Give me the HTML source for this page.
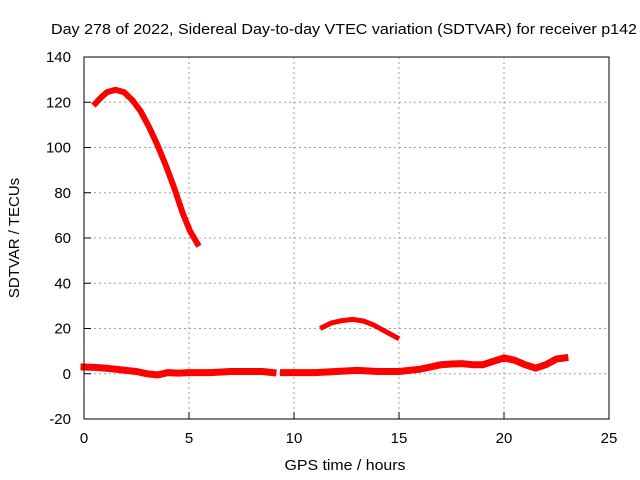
<!DOCTYPE html>
<html><head><meta charset="utf-8"><style>
body{margin:0;background:#fff;}
svg{display:block;font-family:"Liberation Sans",Arial,sans-serif;}
</style></head><body>
<svg id="chart" width="640" height="480" viewBox="0 0 640 480" xmlns="http://www.w3.org/2000/svg">
<rect width="640" height="480" fill="#fff"/>
<g id="grid"></g>
<g id="series"></g>
<rect x="84" y="57" width="525" height="362" fill="none" stroke="#000" stroke-width="1"/>
<g id="ticks"></g>
<text x="51" y="34" font-size="15" textLength="586" lengthAdjust="spacingAndGlyphs">Day 278 of 2022, Sidereal Day-to-day VTEC variation (SDTVAR) for receiver p142</text>
<text x="345" y="470" text-anchor="middle" font-size="15" textLength="121" lengthAdjust="spacingAndGlyphs">GPS time / hours</text>
<text transform="translate(19,238) rotate(-90)" text-anchor="middle" font-size="15">SDTVAR / TECUs</text>
</svg>
<script>
const xTicks=[0,5,10,15,20,25];
const yTicks=[-20,0,20,40,60,80,100,120,140];
const arc1T=[0.55,0.8,1.1,1.5,1.9,2.3,2.7,3.1,3.5,3.9,4.3,4.7,5.05,5.4];
const arc1V=[119.5,122,124.5,125.5,124.5,121,116,109,101,92,82,71,63,57.5];
const arc2T=[11.35,11.8,12.3,12.8,13.3,13.8,14.3,14.9];
const arc2V=[20.5,22.5,23.5,24,23.3,21.5,19,16];
const base1T=[0,0.5,1,1.5,2,2.5,3,3.5,4,4.5,5,6,7,8,8.5,9.0];
const base1V=[3,2.8,2.5,2,1.5,1,0,-0.5,0.5,0.3,0.5,0.5,1,1,1,0.5];
const base2T=[9.5,10,11,12,13,14,15,16,16.5,17,17.5,18,18.5,19,19.5,20,20.5,21,21.5,22,22.5,22.9];
const base2V=[0.5,0.5,0.5,1,1.5,1,1,2,3,4,4.3,4.5,4,4,5.5,7,6,4,2.5,4,6.5,7];
const NS="http://www.w3.org/2000/svg";
const X=t=>84+t*21;
const Y=v=>373.75-v*2.2625;
const grid=document.getElementById('grid'),ticks=document.getElementById('ticks'),series=document.getElementById('series');
function mk(tag,at,parent){const e=document.createElementNS(NS,tag);for(const k in at)e.setAttribute(k,at[k]);parent.appendChild(e);return e;}
xTicks.forEach(t=>{
  if(t>0&&t<25){const g=mk('line',{x1:X(t),x2:X(t),y1:57,y2:419,stroke:'#a0a0a0','stroke-dasharray':'2,3'},grid);
  
  }
  const l=mk('line',{x1:X(t),x2:X(t),y1:419,y2:412,stroke:'#000'},ticks);
  
  
  const tx=mk('text',{x:X(t),y:443,'text-anchor':'middle','font-size':15},ticks);tx.textContent=t;
  
  
});
yTicks.forEach(v=>{
  if(v>-20&&v<140){const g=mk('line',{x1:84,x2:609,y1:Y(v),y2:Y(v),stroke:'#a0a0a0','stroke-dasharray':'2,3'},grid);
  
  }
  const l=mk('line',{x1:84,x2:91,y1:Y(v),y2:Y(v),stroke:'#000'},ticks);
  
  
  const tx=mk('text',{x:71,y:Y(v)+5,'text-anchor':'end','font-size':15},ticks);tx.textContent=v;
  
  
});
function drawSeries(ts,vs,w,name){
  const pts=ts.map((t,i)=>X(t).toFixed(1)+','+Y(vs[i]).toFixed(1)).join(' ');
  const p=mk('polyline',{points:pts,fill:'none',stroke:'#ff0000','stroke-width':w,'stroke-linejoin':'round','stroke-linecap':'square'},series);
  
  
}
drawSeries(arc1T,arc1V,6,'series-arc-early');
drawSeries(arc2T,arc2V,5,'series-arc-midday');
drawSeries(base1T,base1V,7,'series-baseline-1');
drawSeries(base2T,base2V,7,'series-baseline-2');
</script>
</body></html>
